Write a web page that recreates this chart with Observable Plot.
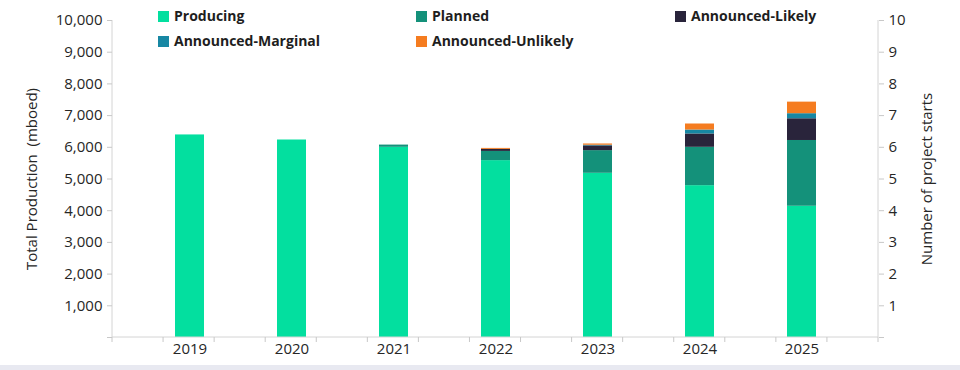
<!DOCTYPE html>
<html><head><meta charset="utf-8">
<script src="https://cdn.jsdelivr.net/npm/d3@7"></script>
<script src="https://cdn.jsdelivr.net/npm/@observablehq/plot@0.6"></script>
<style>
body{margin:0;background:#fff;font-family:"Open Sans",sans-serif;}
#wrap{position:relative;width:960px;height:370px;overflow:hidden;background:#fff}
.lg{position:absolute;font-weight:bold;font-size:14px;color:#1e1e1e;display:flex;align-items:center;white-space:nowrap;line-height:16px}
.sw{width:11px;height:11px;margin-right:5px;display:inline-block}
#band{position:absolute;left:0;top:365px;width:960px;height:5px;background:#e8e9f1}
</style></head>
<body><div id="wrap"></div>
<script>
const years = ["2019","2020","2021","2022","2023","2024","2025"];
const producing = [6390, 6230, 6000, 5580, 5180, 4790, 4140];
const planned   = [0, 0, 70, 290, 715, 1210, 2075];
const likely    = [0, 0, 0, 65, 150, 420, 685];
const marginal  = [0, 0, 0, 0, 20, 125, 160];
const unlikely  = [0, 0, 0, 30, 40, 190, 365];
const seriesNames = ["Producing","Planned","Announced-Likely","Announced-Marginal","Announced-Unlikely"];
const seriesColors = ["#03df9f","#14917a","#29243b","#1787a3","#f57c20"];
const leftTicks = [0,1000,2000,3000,4000,5000,6000,7000,8000,9000,10000];
const rightTicks = [0,1,2,3,4,5,6,7,8,9,10];
const leftTitle = "Total Production  (mboed)";
const rightTitle = "Number of project starts";

const seriesValues = [producing, planned, likely, marginal, unlikely];
const data = [];
seriesNames.forEach((s, i) => years.forEach((y, j) => data.push({year: y, series: s, value: seriesValues[i][j]})));

const W = 960, H = 365, ML = 112, MR = 82, MT = 20, MB = 28;
const nSlots = 2 * years.length + 1;

const axisLines = (index, scales, values, dims) => {
  const g = d3.create("svg:g");
  const x0 = dims.marginLeft, x1 = dims.width - dims.marginRight;
  const y0 = dims.height - dims.marginBottom, yT = dims.marginTop;
  const line = (a, b, c, d, col) => g.append("line").attr("x1", a).attr("y1", b).attr("x2", c).attr("y2", d).attr("stroke", col).attr("stroke-width", 1);
  line(x0, yT, x0, y0, "#d4d4d4");
  line(x1, yT, x1, y0, "#d4d4d4");
  line(x0, y0, x1, y0, "#d4d4d4");
  for (let i = 0; i <= nSlots; i++) {
    const xx = x0 + i * (x1 - x0) / nSlots;
    line(xx, y0, xx, y0 + 5, "#c8c8c8");
  }
  return g.node();
};

const plot = Plot.plot({
  width: W, height: H,
  marginLeft: ML, marginRight: MR, marginTop: MT, marginBottom: MB,
  style: {fontFamily: "'Open Sans', sans-serif", fontSize: "15px", color: "#262626", background: "transparent"},
  x: {type: "band", domain: years, paddingInner: 0.716, paddingOuter: 0.608},
  y: {domain: [0, 10000]},
  color: {domain: seriesNames, range: seriesColors},
  marks: [
    Plot.barY(data, {x: "year", y: "value", fill: "series"}),
    axisLines,
    Plot.axisX({tickSize: 0, tickPadding: 6, label: null, fontSize: 15}),
    Plot.axisY(leftTicks, {anchor: "left", tickSize: 5, tickPadding: 5, stroke: "#c8c8c8", label: null, fontSize: 15,
      tickFormat: d => d === 0 ? "" : d3.format(",")(d)}),
    Plot.axisY(rightTicks.map(d => d * 1000), {anchor: "right", tickSize: 5, tickPadding: 5, stroke: "#c8c8c8", label: null, fontSize: 15,
      tickFormat: d => d === 0 ? "" : String(d / 1000)}),
    Plot.text([leftTitle], {frameAnchor: "left", rotate: -90, dx: -80, textAnchor: "middle", text: d => d, fontSize: 15, fill: "#262626"}),
    Plot.text([rightTitle], {frameAnchor: "right", rotate: -90, dx: 49, textAnchor: "middle", text: d => d, fontSize: 15, fill: "#262626"})
  ]
});
const wrap = document.getElementById("wrap");
wrap.appendChild(plot);

const legendPos = [[158, 8], [416, 8], [675, 8], [158, 33], [416, 33]];
seriesNames.forEach((s, i) => {
  const d = document.createElement("div");
  d.className = "lg";
  d.style.left = legendPos[i][0] + "px";
  d.style.top = legendPos[i][1] + "px";
  d.innerHTML = `<span class="sw" style="background:${seriesColors[i]}"></span>${s}`;
  wrap.appendChild(d);
});
const band = document.createElement("div");
band.id = "band";
wrap.appendChild(band);
</script>
</body></html>
